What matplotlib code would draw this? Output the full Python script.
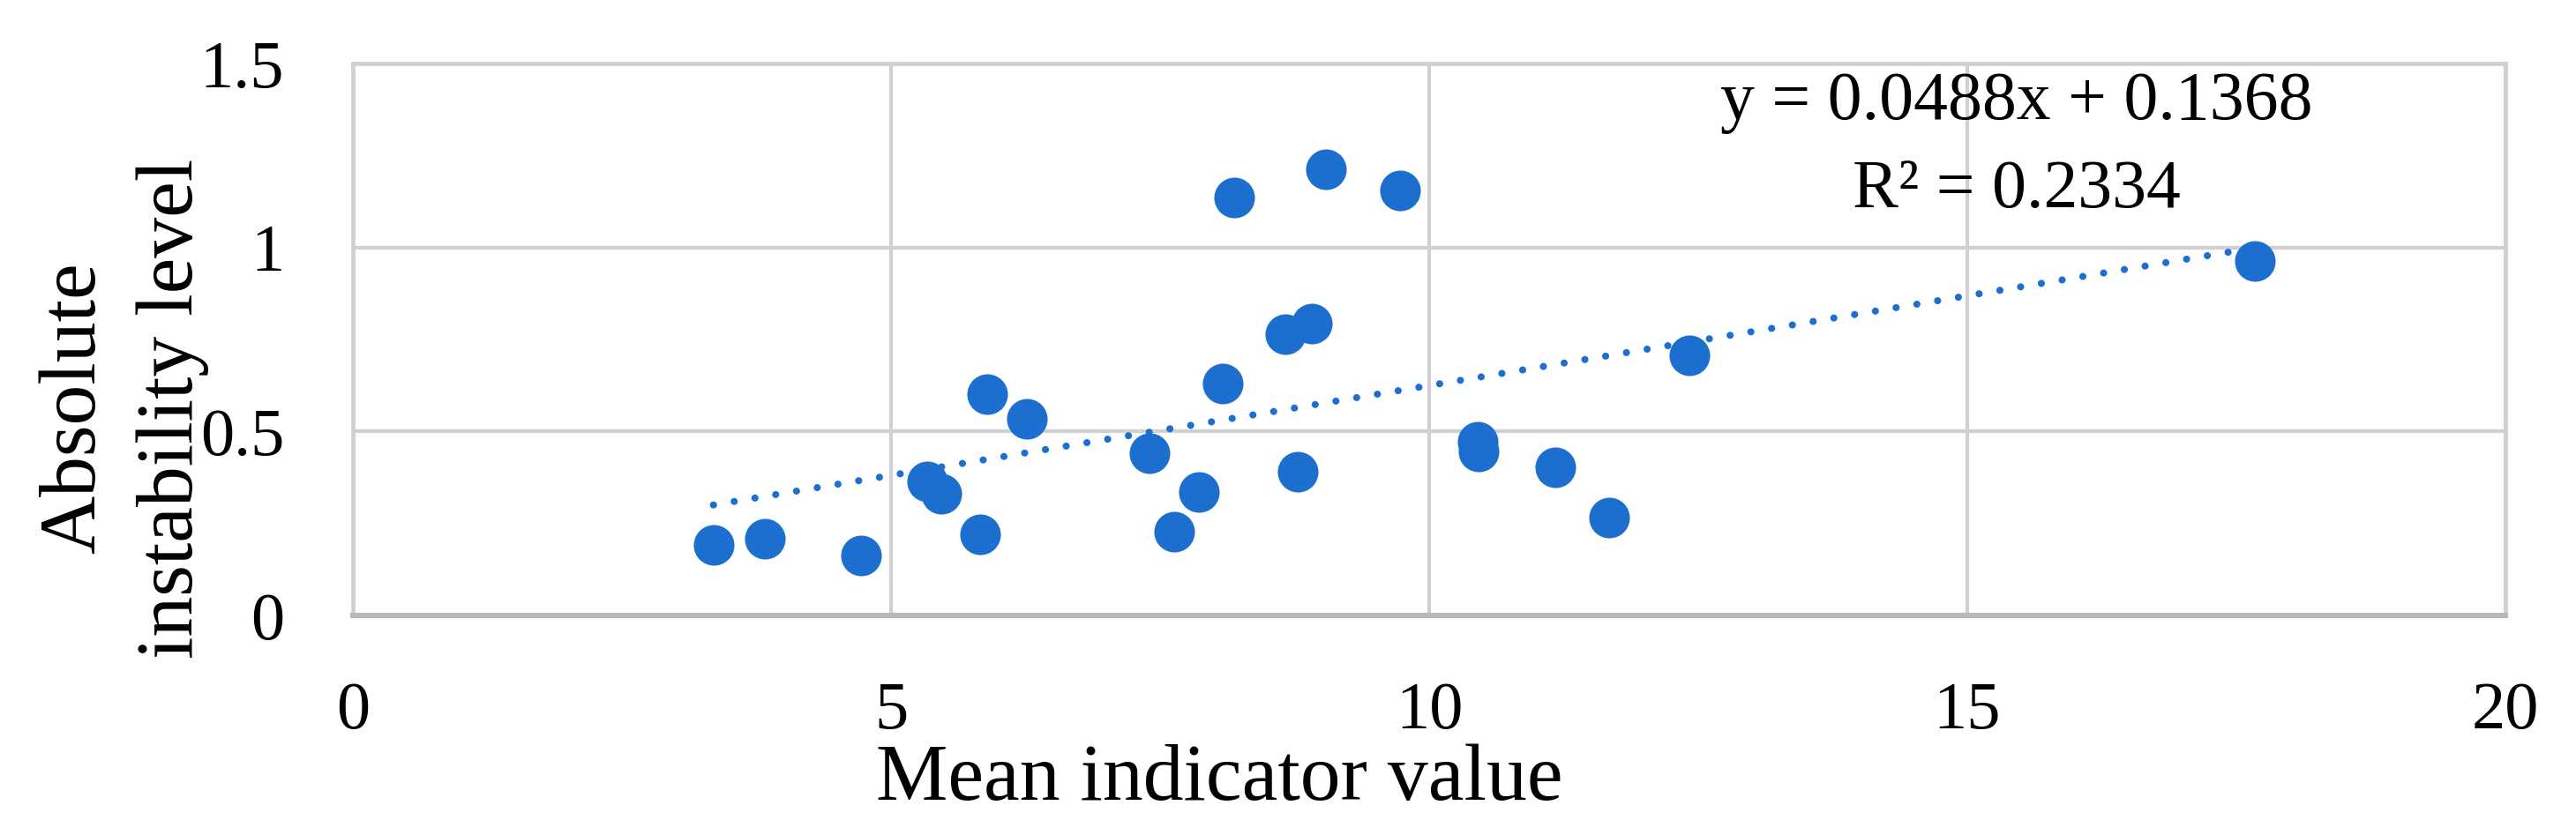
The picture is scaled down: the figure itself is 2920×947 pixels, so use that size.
import matplotlib.pyplot as plt
import numpy as np

# Data
mean_value = [3.35, 3.83, 4.72, 5.34, 5.47, 5.83, 5.89, 6.26, 7.40, 7.63, 7.86,
              8.08, 8.19, 8.66, 8.91, 8.78, 9.04, 9.73, 10.45, 10.46, 11.17,
              11.67, 12.42, 17.67]
instability = [0.191, 0.208, 0.162, 0.364, 0.331, 0.22, 0.602, 0.534, 0.44, 0.227,
               0.335, 0.631, 1.136, 0.764, 0.794, 0.39, 1.212, 1.155, 0.472,
               0.446, 0.403, 0.267, 0.706, 0.963]
slope = 0.0488
intercept = 0.1368
r2 = 0.2334
x_ticks = [0, 5, 10, 15, 20]
y_ticks = [0, 0.5, 1, 1.5]
y_tick_labels = ['0', '0.5', '1', '1.5']

W, H = 2920, 947
blue = '#1c6fce'
grid_col = '#d0d0d0'
font = 'Liberation Serif'

fig = plt.figure(figsize=(W / 100, H / 100), dpi=100)
ax = fig.add_axes([400 / W, 1 - 698 / H, 2440 / W, 626 / H])

ax.scatter(mean_value, instability, s=1100, color=blue, zorder=3, linewidths=0)

# linear trendline across the data range
xt = np.array([min(mean_value), max(mean_value)])
ax.plot(xt, slope * xt + intercept, color=blue, lw=5.8,
        linestyle=(0, (0.01, 2.95)), dash_capstyle='round', zorder=2)

ax.set_xlim(0, 20)
ax.set_ylim(0, 1.5)
ax.set_xticks(x_ticks)
ax.set_yticks(y_ticks)
ax.set_yticklabels(y_tick_labels)
ax.grid(True, color=grid_col, lw=3)
ax.set_axisbelow(True)
for s in ['left', 'top', 'right']:
    ax.spines[s].set_color(grid_col)
    ax.spines[s].set_linewidth(3.4)
ax.spines['bottom'].set_color('#b9b9b9')
ax.spines['bottom'].set_linewidth(4.4)
ax.tick_params(length=0, labelsize=55)
ax.tick_params(axis='x', pad=54)
ax.tick_params(axis='y', pad=56)
for lab in ax.get_xticklabels() + ax.get_yticklabels():
    lab.set_fontfamily(font)

# axis titles
fig.text(993 / W, 1 - 907 / H, 'Mean indicator value', fontsize=66,
         family=font, ha='left', va='baseline')
fig.text(107 / W, 1 - 463 / H, 'Absolute', fontsize=66, family=font,
         ha='center', va='baseline', rotation=90, rotation_mode='anchor')
fig.text(218 / W, 1 - 463 / H, 'instability level', fontsize=66, family=font,
         ha='center', va='baseline', rotation=90, rotation_mode='anchor')

# trendline equation
fig.text(2286 / W, 1 - 135 / H, f'y = {slope}x + {intercept}', fontsize=56,
         family=font, ha='center', va='baseline')
fig.text(2286 / W, 1 - 235 / H, f'R² = {r2}', fontsize=56,
         family=font, ha='center', va='baseline')

fig.savefig('out.png', dpi=100, facecolor='white')
